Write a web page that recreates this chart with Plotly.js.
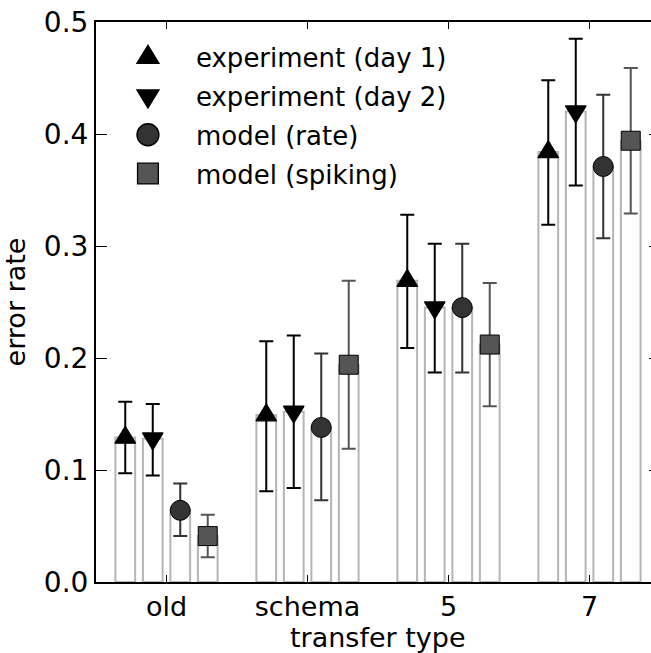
<!DOCTYPE html>
<html>
<head>
<meta charset="utf-8">
<script src="https://cdn.plot.ly/plotly-3.0.1.min.js"></script>
<style>
html, body { margin: 0; padding: 0; overflow: hidden; background: #fff; }
#chart { width: 680px; height: 653px; }
</style>
</head>
<body>
<div id="chart"></div>
<script>
// ---- data ----
var categories = ['old', 'schema', '5', '7'];
var seriesNames = ['experiment (day 1)', 'experiment (day 2)', 'model (rate)', 'model (spiking)'];
var xTitle = 'transfer type';
var yTitle = 'error rate';

var day1    = [0.129, 0.149, 0.269, 0.384];
var day1Hi  = [0.161, 0.215, 0.328, 0.448];
var day1Lo  = [0.097, 0.081, 0.209, 0.319];

var day2    = [0.128, 0.152, 0.245, 0.420];
var day2Hi  = [0.159, 0.220, 0.302, 0.485];
var day2Lo  = [0.095, 0.084, 0.187, 0.354];

var rate    = [0.064, 0.138, 0.245, 0.371];
var rateHi  = [0.088, 0.204, 0.302, 0.435];
var rateLo  = [0.041, 0.073, 0.187, 0.307];

var spiking   = [0.041, 0.194, 0.212, 0.394];
var spikingHi = [0.060, 0.269, 0.267, 0.459];
var spikingLo = [0.022, 0.119, 0.157, 0.329];

var yTicks = [0.0, 0.1, 0.2, 0.3, 0.4, 0.5];

// ---- styling ----
var FONT = 'DejaVu Sans, sans-serif';
var series = [
  {v: day1, hi: day1Hi, lo: day1Lo, symbol: 'triangle-up', size: 18, fill: '#000000', err: '#000000'},
  {v: day2, hi: day2Hi, lo: day2Lo, symbol: 'triangle-down', size: 18, fill: '#000000', err: '#000000'},
  {v: rate, hi: rateHi, lo: rateLo, symbol: 'circle', size: 20, fill: '#333333', err: '#333333'},
  {v: spiking, hi: spikingHi, lo: spikingLo, symbol: 'square', size: 19, fill: '#555555', err: '#555555'}
];
// extra symbol scaling (Plotly triangles are flatter than the figure's; legend symbols are size-capped)
var plotScale   = ['1,1.26', '1,1.26', null, null];
var legendScale = ['1.19,1.5', '1.19,1.5', '1.37', '1.3'];
var slot = 0.195, barW = 0.14;
var catIdx = categories.map(function (c, i) { return i; });

var traces = [];
series.forEach(function (s, k) {
  var off = (k - 1.5) * slot;
  traces.push({
    type: 'bar',
    x: catIdx.map(function (i) { return i + off; }),
    y: s.v,
    width: barW,
    marker: {color: '#ffffff', line: {color: '#b5b5b5', width: 2}},
    showlegend: false,
    hoverinfo: 'skip'
  });
});
series.forEach(function (s, k) {
  var off = (k - 1.5) * slot;
  traces.push({
    type: 'scatter',
    mode: 'markers',
    name: seriesNames[k],
    legendgroup: 'g' + k,
    x: catIdx.map(function (i) { return i + off; }),
    y: s.v,
    marker: {symbol: s.symbol, size: s.size, color: s.fill, line: {color: '#000000', width: 1}},
    error_y: {
      type: 'data', symmetric: false,
      array: s.hi.map(function (h, i) { return h - s.v[i]; }),
      arrayminus: s.lo.map(function (l, i) { return s.v[i] - l; }),
      color: s.err, thickness: 2, width: 7
    }
  });
});

var layout = {
  width: 680, height: 653,
  margin: {l: 96, r: 20, t: 22, b: 71, pad: 0},
  paper_bgcolor: '#ffffff', plot_bgcolor: '#ffffff',
  font: {family: FONT, color: '#000000', size: 26},
  barmode: 'overlay',
  showlegend: true,
  legend: {
    x: 0.007, y: 0.979, xanchor: 'left', yanchor: 'top',
    bgcolor: 'rgba(0,0,0,0)', borderwidth: 0,
    font: {family: FONT, size: 26, color: '#000000'},
    itemwidth: 86, tracegroupgap: 2,
    xref: 'paper', yref: 'paper'
  },
  xaxis: {
    range: [-0.5, 3.5],
    tickvals: catIdx, ticktext: categories,
    ticks: 'inside', ticklen: 7, tickwidth: 1, tickcolor: '#000000',
    showline: true, linecolor: '#000000', linewidth: 2, mirror: 'ticks',
    showgrid: false, zeroline: false,
    tickfont: {family: FONT, size: 27, color: '#000000'}
  },
  yaxis: {
    range: [0, 0.5],
    tickvals: yTicks, tickformat: '.1f',
    ticks: 'inside', ticklen: 11, tickwidth: 1, tickcolor: '#000000',
    showline: true, linecolor: '#000000', linewidth: 2, mirror: 'ticks',
    showgrid: false, zeroline: false,
    tickfont: {family: FONT, size: 28, color: '#000000'},
    title: {text: yTitle, font: {family: FONT, size: 27, color: '#000000'}, standoff: 10}
  },
  annotations: [{
    text: xTitle, xref: 'paper', yref: 'paper', x: 0.5, y: 0,
    xanchor: 'center', yanchor: 'middle', yshift: -55, showarrow: false,
    font: {family: FONT, size: 27, color: '#000000'}
  }]
};

function addScale(el, sc) {
  var t = el.getAttribute('transform') || '';
  el.setAttribute('transform', t + ' scale(' + sc + ')');
}

Plotly.newPlot('chart', traces, layout, {displayModeBar: false, staticPlot: true}).then(function () {
  var scTraces = document.querySelectorAll('.scatterlayer .trace');
  scTraces.forEach(function (tr, k) {
    if (plotScale[k]) {
      tr.querySelectorAll('path.point').forEach(function (p) { addScale(p, plotScale[k]); });
    }
  });
  var legTraces = document.querySelectorAll('.legend .traces');
  legTraces.forEach(function (tr, k) {
    if (legendScale[k]) {
      tr.querySelectorAll('.legendpoints path.scatterpts').forEach(function (p) { addScale(p, legendScale[k]); });
    }
  });
});
</script>
</body>
</html>
